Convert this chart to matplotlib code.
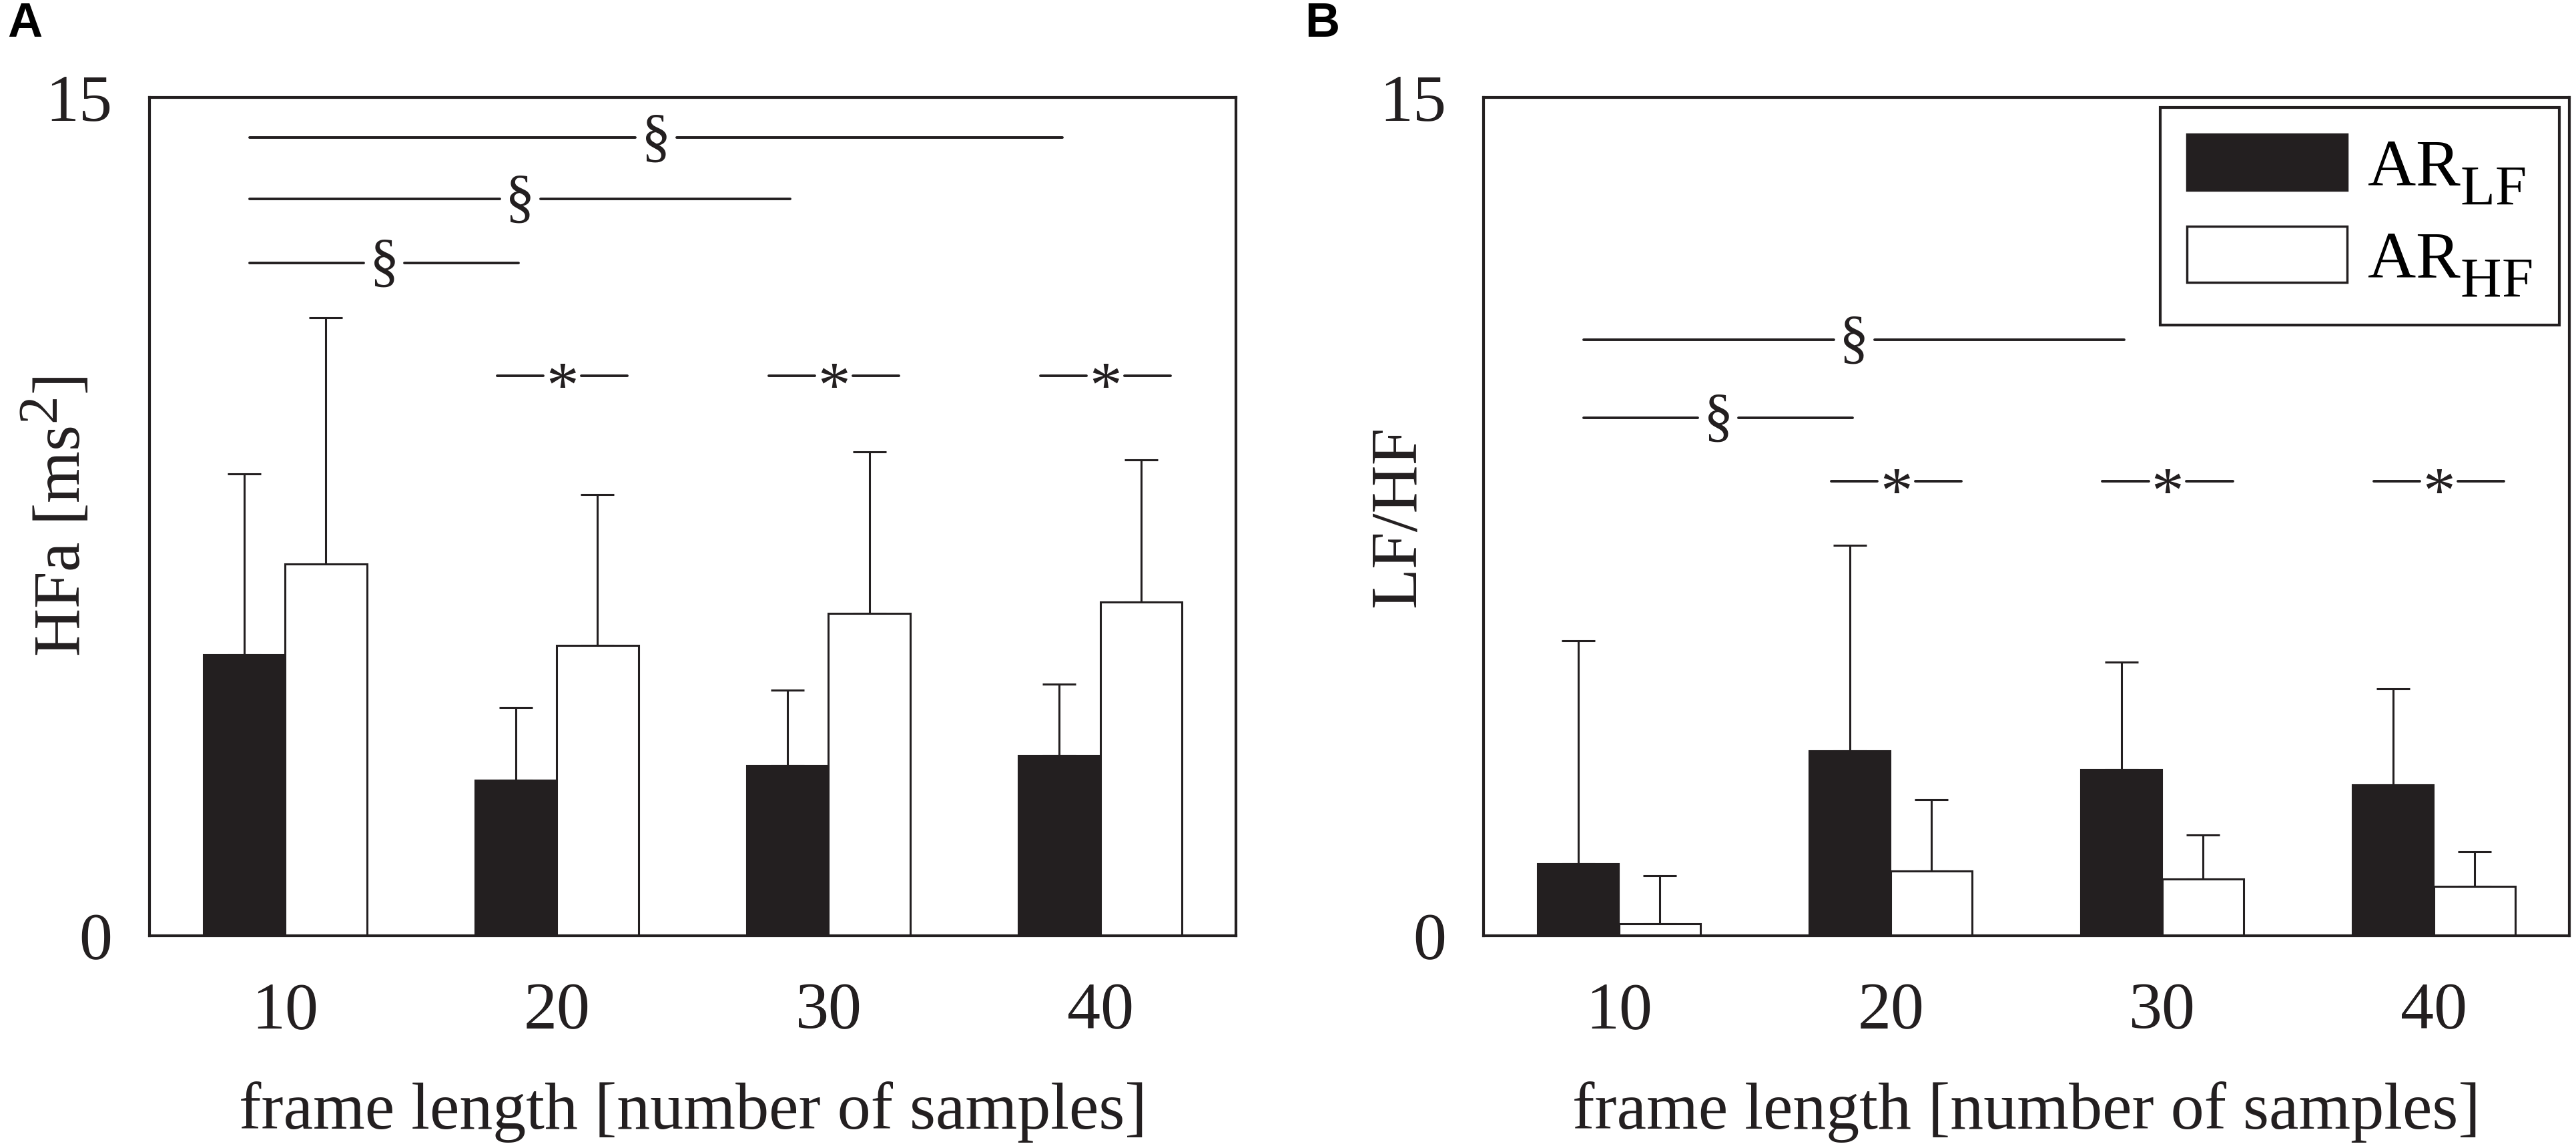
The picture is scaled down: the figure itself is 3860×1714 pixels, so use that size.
import numpy as np
import matplotlib
matplotlib.use("Agg")
import matplotlib.pyplot as plt
import matplotlib._mathtext as mtext
from matplotlib.patches import Patch

plt.rcParams['font.family'] = ['Liberation Serif', 'DejaVu Serif']
plt.rcParams['mathtext.fontset'] = 'custom'
plt.rcParams['mathtext.rm'] = 'Liberation Serif'
plt.rcParams['mathtext.it'] = 'Liberation Serif:italic'
mtext.SHRINK_FACTOR = 0.85  # indices plus gros, comme sur l'original
mtext.FontConstantsBase.sub1 = 0.65  # indices plus bas

# valeurs
frame_lengths = ['10', '20', '30', '40']

hfa_lf_mean = [5.03, 2.78, 3.05, 3.22]
hfa_lf_sd = [3.23, 1.30, 1.35, 1.28]
hfa_hf_mean = [6.65, 5.20, 5.77, 5.97]
hfa_hf_sd = [4.41, 2.70, 2.89, 2.55]

lfhf_lf_mean = [1.29, 3.31, 2.97, 2.70]
lfhf_lf_sd = [3.99, 3.68, 1.93, 1.72]
lfhf_hf_mean = [0.22, 1.16, 1.02, 0.89]
lfhf_hf_sd = [0.86, 1.28, 0.78, 0.61]

# comparaisons (§ : groupe 10 vs autre groupe, * : LF vs HF)
hfa_section = [(1, 12.04), (2, 13.19), (3, 14.28)]
hfa_star = [(1, 10.02), (2, 10.02), (3, 10.02)]
lfhf_section = [(1, 9.27), (2, 10.67)]
lfhf_star = [(1, 8.13), (2, 8.13), (3, 8.13)]

DARK = '#231f20'
FS = 72
W = 0.30


def tracer_panneau(ax, lf_mean, lf_sd, hf_mean, hf_sd, ylabel, section, star, ylab_x):
    x = np.arange(len(frame_lengths))
    ax.bar(x - W / 2, lf_mean, W, color=DARK, edgecolor=DARK, linewidth=1.5, zorder=2)
    ax.bar(x + W / 2, hf_mean, W, color='white', edgecolor=DARK, linewidth=2.2, zorder=2)
    ax.errorbar(x - W / 2, lf_mean, yerr=[np.zeros(len(x)), lf_sd], fmt='none',
                ecolor=DARK, elinewidth=2.2, capsize=18, capthick=2.2, zorder=1)
    ax.errorbar(x + W / 2, hf_mean, yerr=[np.zeros(len(x)), hf_sd], fmt='none',
                ecolor=DARK, elinewidth=2.2, capsize=18, capthick=2.2, zorder=1)

    # lignes de significativite
    for k, y in section:
        x0, x1 = -0.13, k - 0.14
        xm = (x0 + x1) / 2
        ax.plot([x0, xm - 0.075], [y, y], color=DARK, lw=2.8, solid_capstyle='round')
        ax.plot([xm + 0.075, x1], [y, y], color=DARK, lw=2.8, solid_capstyle='round')
        ax.annotate('§', xy=(xm, y), xytext=(0, -18), textcoords='offset points',
                    ha='center', va='baseline', fontsize=64, color=DARK)
    for k, y in star:
        xm = k + 0.02
        ax.plot([xm - 0.24, xm - 0.07], [y, y], color=DARK, lw=2.8, solid_capstyle='round')
        ax.plot([xm + 0.07, xm + 0.24], [y, y], color=DARK, lw=2.8, solid_capstyle='round')
        ax.annotate('*', xy=(xm, y), xytext=(0, -33), textcoords='offset points',
                    ha='center', va='baseline', fontsize=70, color=DARK)

    ax.set_xlim(-0.5, 3.5)
    ax.set_ylim(0, 15)
    ax.set_yticks([0, 15])
    ax.set_yticklabels(['0', '15'])
    ax.set_xticks(x)
    ax.set_xticklabels(frame_lengths)
    ax.tick_params(axis='both', length=0, labelsize=FS, colors=DARK)
    ax.tick_params(axis='y', pad=40)
    ax.tick_params(axis='x', pad=50)
    for s in ax.spines.values():
        s.set_linewidth(3)
        s.set_color(DARK)
    ax.set_xlabel('frame length [number of samples]', fontsize=FS, color=DARK, labelpad=42)
    ax.set_ylabel(ylabel, fontsize=FS, color=DARK, va='center')
    ax.yaxis.set_label_coords(ylab_x, 0.5)


fig = plt.figure(figsize=(38.6, 17.14), dpi=100)
axA = fig.add_axes([0.058, 0.182, 0.4218, 0.7328])
axB = fig.add_axes([0.5759, 0.182, 0.4215, 0.7328])

tracer_panneau(axA, hfa_lf_mean, hfa_lf_sd, hfa_hf_mean, hfa_hf_sd,
               r'HFa [ms$^{2}$]', hfa_section, hfa_star, -0.083)
tracer_panneau(axB, lfhf_lf_mean, lfhf_lf_sd, lfhf_hf_mean, lfhf_hf_sd,
               'LF/HF', lfhf_section, lfhf_star, -0.078)

handles = [Patch(facecolor=DARK, edgecolor=DARK, linewidth=2.5),
           Patch(facecolor='white', edgecolor=DARK, linewidth=2.5)]
leg = axB.legend(handles, [r'AR$_{\mathrm{LF}}$', r'AR$_{\mathrm{HF}}$'],
                 loc='upper right', fontsize=FS, fancybox=False, framealpha=1,
                 edgecolor=DARK, handlelength=2.4, handleheight=0.92,
                 handletextpad=0.3, labelspacing=0.3, borderpad=0.4,
                 borderaxespad=0.15)
leg.get_frame().set_linewidth(3)

fig.text(0.003, 0.999, 'A', fontsize=52, fontweight='bold', va='top', ha='left',
         family=['Liberation Sans', 'DejaVu Sans'])
fig.text(0.5065, 0.999, 'B', fontsize=52, fontweight='bold', va='top', ha='left',
         family=['Liberation Sans', 'DejaVu Sans'])

fig.savefig('out.png', dpi=100)
